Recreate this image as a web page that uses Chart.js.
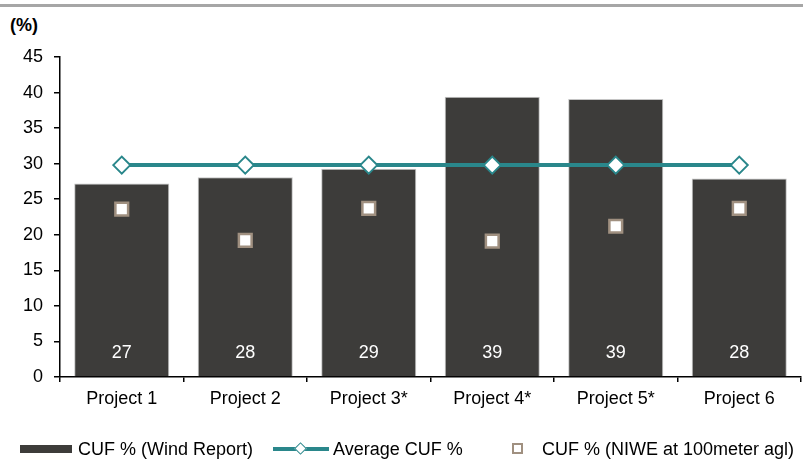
<!DOCTYPE html>
<html>
<head>
<meta charset="utf-8">
<script src="https://cdn.jsdelivr.net/npm/chart.js@4"></script>
<style>
  html, body { margin: 0; padding: 0; background: #ffffff; }
  #wrap { position: relative; width: 803px; height: 461px; overflow: hidden; font-family: "Liberation Sans", Arial, sans-serif; }
  #topline { position: absolute; left: 0; top: 4px; width: 803px; height: 3px; background: #a6a6a6; }
  #unit { position: absolute; left: 10px; top: 14px; font-size: 18px; font-weight: bold; color: #000; line-height: 22px; }
  canvas { position: absolute; left: 0; top: 0; }
  .lg { position: absolute; font-size: 18px; color: #000; line-height: 22px; top: 438px; white-space: nowrap; }
  .sw { position: absolute; }
</style>
</head>
<body>
<div id="wrap">
  <div id="topline"></div>
  <div id="unit">(%)</div>
  <canvas id="c" width="803" height="461"></canvas>
  <div class="sw" style="left:20px; top:445px; width:52px; height:8px; background:#3d3c3a;"></div>
  <div class="lg" style="left:78px;">CUF % (Wind Report)</div>
  <div class="sw" style="left:273px; top:447px; width:56px; height:4px; background:#2a878b;"></div>
  <div class="sw" style="left:296px; top:444px; width:7px; height:7px; background:#fff; border:1.5px solid #2a878b; transform:rotate(45deg);"></div>
  <div class="lg" style="left:333px;">Average CUF %</div>
  <div class="sw" style="left:512px; top:443px; width:7px; height:7px; background:#fff; border:2px solid #a09080;"></div>
  <div class="lg" style="left:542px;">CUF % (NIWE at 100meter agl)</div>
</div>
<script>
const categories = ["Project 1", "Project 2", "Project 3*", "Project 4*", "Project 5*", "Project 6"];
const cufWindReport = [27.2, 28.1, 29.3, 39.4, 39.1, 27.9];
const averageCuf = [29.8, 29.8, 29.8, 29.8, 29.8, 29.8];
const cufNiwe = [23.6, 19.2, 23.7, 19.1, 21.2, 23.7];
const yTicks = { min: 0, max: 45, step: 5 };

const FONT = "'Liberation Sans', Arial, sans-serif";

const barLabels = {
  id: 'barLabels',
  afterDatasetsDraw(chart) {
    const meta = chart.getDatasetMeta(0);
    const ctx = chart.ctx;
    ctx.save();
    ctx.fillStyle = '#ffffff';
    ctx.font = '18px ' + FONT;
    ctx.textAlign = 'center';
    ctx.textBaseline = 'middle';
    meta.data.forEach((bar, i) => {
      ctx.fillText(String(Math.round(cufWindReport[i])), bar.x, bar.base - 23);
    });
    ctx.restore();
  }
};

new Chart(document.getElementById('c'), {
  data: {
    labels: categories,
    datasets: [
      {
        type: 'bar',
        label: 'CUF % (Wind Report)',
        data: cufWindReport,
        backgroundColor: '#3d3c3a',
        borderColor: '#c4c4c4',
        borderWidth: 1,
        barPercentage: 0.77,
        categoryPercentage: 1.0,
        order: 3
      },
      {
        type: 'line',
        label: 'Average CUF %',
        data: averageCuf,
        borderColor: '#2a878b',
        borderWidth: 4,
        pointStyle: 'rectRot',
        pointRadius: 8.5,
        pointBackgroundColor: '#ffffff',
        pointBorderColor: '#2a878b',
        pointBorderWidth: 2,
        fill: false,
        tension: 0,
        order: 2
      },
      {
        type: 'line',
        label: 'CUF % (NIWE at 100meter agl)',
        data: cufNiwe,
        showLine: false,
        pointStyle: 'rect',
        pointRadius: 9,
        pointBackgroundColor: '#ffffff',
        pointBorderColor: '#a09080',
        pointBorderWidth: 2.5,
        order: 1
      }
    ]
  },
  options: {
    responsive: false,
    animation: false,
    devicePixelRatio: 1,
    layout: { autoPadding: false, padding: { top: 57, right: 2, left: 0, bottom: 0 } },
    plugins: { legend: { display: false }, tooltip: { enabled: false } },
    scales: {
      x: {
        offset: true,
        grid: { offset: true, drawOnChartArea: false, drawTicks: true, tickLength: 5, color: '#000000', lineWidth: 1.5 },
        border: { display: true, color: '#000000', width: 1.5 },
        ticks: { color: '#000000', font: { family: FONT, size: 18 }, padding: 6, maxRotation: 0, autoSkip: false },
        afterFit(scale) { scale.height = 84; scale.paddingLeft = 0; scale.paddingRight = 0; }
      },
      y: {
        min: yTicks.min,
        max: yTicks.max,
        ticks: { stepSize: yTicks.step, color: '#000000', font: { family: FONT, size: 18 }, padding: 11 },
        grid: { drawOnChartArea: false, drawTicks: true, tickLength: 6, color: '#000000', lineWidth: 1.5 },
        border: { display: true, color: '#000000', width: 1.5 },
        afterFit(scale) { scale.width = 60; scale.paddingTop = 0; scale.paddingBottom = 0; }
      }
    }
  },
  plugins: [barLabels]
});
</script>
</body>
</html>
